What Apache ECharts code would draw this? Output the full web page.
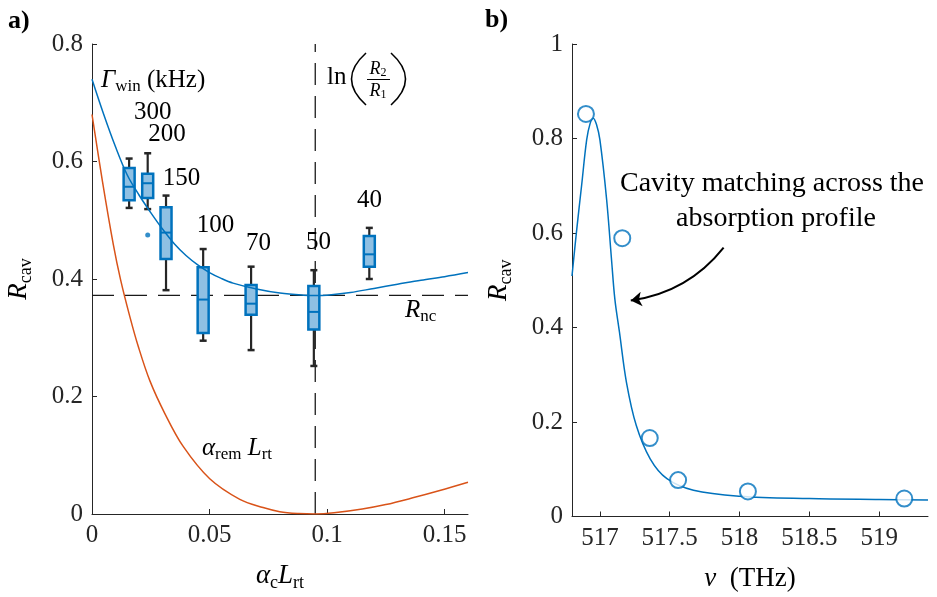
<!DOCTYPE html>
<html><head><meta charset="utf-8">
<script src="https://cdn.jsdelivr.net/npm/echarts@6/dist/echarts.min.js"></script>
<style>html,body{margin:0;padding:0;background:#fff}#c{width:937px;height:597px}</style>
</head><body><div id="c"></div>
<script>
// ---------------- data (panel a) ----------------
const boxX   = [0.0158, 0.0237, 0.0315, 0.0473, 0.0677, 0.0944, 0.1180];
const boxTag = ['300', '200', '150', '100', '70', '50', '40'];
const boxMin = [0.521, 0.519, 0.381, 0.295, 0.279, 0.252, 0.400];
const boxQ1  = [0.534, 0.538, 0.434, 0.308, 0.339, 0.314, 0.421];
const boxMed = [0.557, 0.563, 0.479, 0.365, 0.358, 0.344, 0.442];
const boxQ3  = [0.589, 0.579, 0.522, 0.420, 0.390, 0.388, 0.473];
const boxMax = [0.605, 0.614, 0.542, 0.451, 0.421, 0.415, 0.487];
const outlierX = [0.0237];
const outlierY = [0.475];
const tagX = [0.0259, 0.0319, 0.0381, 0.0525, 0.0709, 0.0964, 0.1181];
const tagY = [0.683, 0.646, 0.572, 0.491, 0.461, 0.462, 0.533];

const fitAX = [0, 0.005, 0.01, 0.015, 0.02, 0.025, 0.03, 0.035, 0.04, 0.045, 0.05, 0.055, 0.06, 0.07, 0.08, 0.09, 0.095, 0.1, 0.11, 0.12, 0.13, 0.14, 0.15, 0.16];
const fitAY = [0.740, 0.680, 0.625, 0.577, 0.543, 0.513, 0.485, 0.460, 0.440, 0.424, 0.411, 0.401, 0.393, 0.383, 0.376, 0.3725, 0.372, 0.3725, 0.377, 0.384, 0.391, 0.398, 0.404, 0.411];

const remX = [0, 0.0045, 0.0091, 0.0122, 0.0161, 0.0197, 0.0246, 0.031, 0.0388, 0.0501, 0.0629, 0.0728, 0.0799, 0.088, 0.095, 0.103, 0.115, 0.125, 0.1365, 0.148, 0.16];
const remY = [0.680, 0.565, 0.458, 0.398, 0.336, 0.285, 0.227, 0.171, 0.115, 0.060, 0.025, 0.011, 0.004, 0.0008, 0, 0.002, 0.0084, 0.016, 0.0275, 0.040, 0.054];

const rNc = 0.372;
const lnR = 0.095;
const xTicksA = [0, 0.05, 0.1, 0.15];

// ---------------- data (panel b) ----------------
const nuMeas = [516.90, 517.16, 517.357, 517.56, 518.06, 519.18];
const rMeas  = [0.852, 0.589, 0.166, 0.077, 0.053, 0.038];
const fitBX = [516.8, 516.833, 516.869, 516.905, 516.93, 516.952, 516.975, 517.0, 517.048, 517.083, 517.107, 517.14, 517.19, 517.26, 517.36, 517.48, 517.67, 518.0, 518.5, 519.0, 519.35];
const fitBY = [0.509, 0.605, 0.701, 0.797, 0.832, 0.843, 0.830, 0.797, 0.671, 0.544, 0.460, 0.390, 0.284, 0.193, 0.122, 0.080, 0.0555, 0.043, 0.038, 0.036, 0.035];
const xTicksB = [517, 517.5, 518, 518.5, 519];
const arrowFrom = [517.886, 0.569];
const arrowTo   = [517.221, 0.457];

// ---------------- styling ----------------
const F = '"Liberation Serif", "Times New Roman", serif';
const AX = '#262626';
const BLUE = '#0072BD';
const ORANGE = '#D95319';
const FS = 25;
const richMath = {
  i: {fontFamily: F, fontStyle: 'italic', fontSize: FS, lineHeight: 30, color: '#000'},
  r: {fontFamily: F, fontSize: FS, lineHeight: 30, color: '#000'},
  s: {fontFamily: F, fontSize: 17, lineHeight: 12, verticalAlign: 'bottom', color: '#000'}
};
const richName = {
  i: {fontFamily: F, fontStyle: 'italic', fontSize: 27, lineHeight: 32, color: '#000'},
  r: {fontFamily: F, fontSize: 27, lineHeight: 32, color: '#000'},
  s: {fontFamily: F, fontSize: 18, lineHeight: 12, verticalAlign: 'bottom', color: '#000'}
};

function axisBase(extra) {
  return Object.assign({
    axisLine: {show: true, onZero: false, lineStyle: {color: AX, width: 1}},
    axisTick: {show: true, inside: true, length: 5, lineStyle: {color: AX, width: 1}},
    splitLine: {show: false},
    axisLabel: {color: AX, fontFamily: F, fontSize: FS, margin: 9}
  }, extra);
}

const zip = (a, b) => a.map((v, i) => [v, b[i]]);

const chart = echarts.init(document.getElementById('c'), null, {renderer: 'canvas'});

const option = {
  backgroundColor: '#fff',
  animation: false,
  grid: [
    {left: 92, top: 44, width: 376, height: 474},
    {left: 572, top: 44, width: 356, height: 474}
  ],
  xAxis: [
    axisBase({gridIndex: 0, type: 'value', min: 0, max: 0.16,
      axisTick: {show: true, inside: true, length: 5, lineStyle: {color: AX}, customValues: xTicksA},
      axisLabel: {color: AX, fontFamily: F, fontSize: FS, margin: 9, customValues: xTicksA},
      name: '{i|α}{s|c}{i|L}{s|rt}', nameLocation: 'middle', nameGap: 46,
      nameTextStyle: {rich: richName}}),
    axisBase({gridIndex: 1, type: 'value', min: 516.8, max: 519.35,
      axisTick: {show: true, inside: true, length: 5, lineStyle: {color: AX}, customValues: xTicksB},
      axisLabel: {color: AX, fontFamily: F, fontSize: FS, margin: 9, customValues: xTicksB},
      name: '{i|ν}{r|  (THz)}', nameLocation: 'middle', nameGap: 46,
      nameTextStyle: {rich: richName}})
  ],
  yAxis: [
    axisBase({gridIndex: 0, type: 'value', min: 0, max: 0.8, interval: 0.2,
      name: '{i|R}{s|cav}', nameLocation: 'middle', nameGap: 57, nameRotate: 90,
      nameTextStyle: {rich: richName}}),
    axisBase({gridIndex: 1, type: 'value', min: 0, max: 1, interval: 0.2,
      name: '{i|R}{s|cav}', nameLocation: 'middle', nameGap: 57, nameRotate: 90,
      nameTextStyle: {rich: richName}})
  ],
  series: [
    // R_nc horizontal dashed
    {type: 'line', xAxisIndex: 0, yAxisIndex: 0, data: [[0, rNc], [0.16, rNc]],
     symbol: 'none', silent: true, z: 1,
     lineStyle: {color: '#1a1a1a', width: 1.3, type: [22, 11]}},
    // ln(R2/R1) vertical dashed
    {type: 'line', xAxisIndex: 0, yAxisIndex: 0, data: [[lnR, 0], [lnR, 0.8]],
     symbol: 'none', silent: true, z: 1,
     lineStyle: {color: '#1a1a1a', width: 1.3, type: [22, 11]}},
    // box plots
    {type: 'custom', xAxisIndex: 0, yAxisIndex: 0, z: 2,
     data: boxX.map((x, i) => [x, boxMin[i], boxQ1[i], boxMed[i], boxQ3[i], boxMax[i]]),
     encode: {x: 0, y: [1, 2, 3, 4, 5]},
     renderItem: function (params, api) {
       const x = api.value(0);
       const pMin = api.coord([x, api.value(1)]);
       const pQ1 = api.coord([x, api.value(2)]);
       const pMed = api.coord([x, api.value(3)]);
       const pQ3 = api.coord([x, api.value(4)]);
       const pMax = api.coord([x, api.value(5)]);
       const cx = pMed[0], hw = 5.5, cw = 3.5;
       const wStyle = {stroke: AX, lineWidth: 2.2};
       return {type: 'group', children: [
         {type: 'line', shape: {x1: cx, y1: pMax[1], x2: cx, y2: pQ3[1]}, style: wStyle},
         {type: 'line', shape: {x1: cx, y1: pQ1[1], x2: cx, y2: pMin[1]}, style: wStyle},
         {type: 'line', shape: {x1: cx - cw, y1: pMax[1], x2: cx + cw, y2: pMax[1]}, style: {stroke: AX, lineWidth: 2.5}},
         {type: 'line', shape: {x1: cx - cw, y1: pMin[1], x2: cx + cw, y2: pMin[1]}, style: {stroke: AX, lineWidth: 2.5}},
         {type: 'rect', shape: {x: cx - hw, y: pQ3[1], width: 2 * hw, height: pQ1[1] - pQ3[1]},
          style: {fill: '#8fc0e3', stroke: BLUE, lineWidth: 2.5}},
         {type: 'line', shape: {x1: cx - hw, y1: pMed[1], x2: cx + hw, y2: pMed[1]}, style: {stroke: BLUE, lineWidth: 2}}
       ]};
     }},
    // outlier
    {type: 'scatter', xAxisIndex: 0, yAxisIndex: 0, z: 3, data: zip(outlierX, outlierY),
     symbol: 'circle', symbolSize: 5, itemStyle: {color: BLUE}},
    // blue fit (panel a)
    {type: 'line', xAxisIndex: 0, yAxisIndex: 0, z: 4, data: zip(fitAX, fitAY),
     symbol: 'none', smooth: 0.35, lineStyle: {color: BLUE, width: 1.5}},
    // orange alpha_rem L_rt
    {type: 'line', xAxisIndex: 0, yAxisIndex: 0, z: 4, data: zip(remX, remY),
     symbol: 'none', smooth: 0.35, lineStyle: {color: ORANGE, width: 1.5}},
    // box tags (linewidth in kHz)
    {type: 'custom', xAxisIndex: 0, yAxisIndex: 0, z: 5,
     data: tagX.map((x, i) => [x, tagY[i], i]),
     encode: {x: 0, y: 1},
     renderItem: function (params, api) {
       const p = api.coord([api.value(0), api.value(1)]);
       return {type: 'text', x: p[0], y: p[1],
         style: {text: boxTag[api.value(2)], fill: '#000', fontFamily: F, fontSize: FS,
                 align: 'center', verticalAlign: 'middle'}};
     }},
    // panel b fit
    {type: 'line', xAxisIndex: 1, yAxisIndex: 1, z: 3, data: zip(fitBX, fitBY),
     symbol: 'none', smooth: 0.35, lineStyle: {color: BLUE, width: 1.5}},
    // panel b measurements
    {type: 'scatter', xAxisIndex: 1, yAxisIndex: 1, z: 4, data: zip(nuMeas, rMeas),
     symbol: 'emptyCircle', symbolSize: 16, itemStyle: {color: BLUE, borderColor: BLUE, borderWidth: 1.5}},
    // arrow
    {type: 'lines', coordinateSystem: 'cartesian2d', xAxisIndex: 1, yAxisIndex: 1, z: 5,
     data: [{coords: [arrowFrom, arrowTo]}],
     symbol: ['none', 'arrow'], symbolSize: [1, 11],
     lineStyle: {color: '#000', width: 2, curveness: 0.2, opacity: 1}}
  ],
  graphic: [
    {type: 'text', x: 8, y: 21, style: {text: 'a)', fontFamily: F, fontSize: 26, fontWeight: 'bold', fill: '#000', verticalAlign: 'middle'}},
    {type: 'text', x: 485, y: 20, style: {text: 'b)', fontFamily: F, fontSize: 26, fontWeight: 'bold', fill: '#000', verticalAlign: 'middle'}},
    {type: 'text', x: 101, y: 80, style: {text: '{i|Γ}{s|win}{r| (kHz)}', rich: richMath, verticalAlign: 'middle'}},
    // ln(R2/R1)
    {type: 'text', x: 327, y: 77, style: {text: 'ln', fontFamily: F, fontSize: FS, fill: '#000', verticalAlign: 'middle'}},
    {type: 'bezierCurve', shape: {x1: 366, y1: 53, x2: 366, y2: 105, cpx1: 337, cpy1: 79}, style: {stroke: '#000', lineWidth: 1.6, fill: null}},
    {type: 'text', x: 378, y: 69, style: {text: '{a|R}{b|2}', align: 'center', verticalAlign: 'middle',
      rich: {a: {fontFamily: F, fontStyle: 'italic', fontSize: 18, lineHeight: 20}, b: {fontFamily: F, fontSize: 12, lineHeight: 9, verticalAlign: 'bottom'}}}},
    {type: 'line', shape: {x1: 367, y1: 79.5, x2: 390, y2: 79.5}, style: {stroke: '#000', lineWidth: 1}},
    {type: 'text', x: 378, y: 91, style: {text: '{a|R}{b|1}', align: 'center', verticalAlign: 'middle',
      rich: {a: {fontFamily: F, fontStyle: 'italic', fontSize: 18, lineHeight: 20}, b: {fontFamily: F, fontSize: 12, lineHeight: 9, verticalAlign: 'bottom'}}}},
    {type: 'bezierCurve', shape: {x1: 391, y1: 53, x2: 391, y2: 105, cpx1: 420, cpy1: 79}, style: {stroke: '#000', lineWidth: 1.6, fill: null}},
    // R_nc
    {type: 'text', x: 405, y: 310, style: {text: '{i|R}{s|nc}', rich: richMath, verticalAlign: 'middle'}},
    // alpha_rem L_rt
    {type: 'text', x: 202, y: 448, style: {text: '{i|α}{s|rem}{i| L}{s|rt}', rich: richMath, verticalAlign: 'middle'}},
    // annotation
    {type: 'text', x: 772, y: 184, style: {text: 'Cavity matching across the', fontFamily: F, fontSize: 28, fill: '#000', align: 'center', verticalAlign: 'middle'}},
    {type: 'text', x: 776, y: 219, style: {text: 'absorption profile', fontFamily: F, fontSize: 28, fill: '#000', align: 'center', verticalAlign: 'middle'}}
  ]
};
chart.setOption(option);
</script>
</body></html>
